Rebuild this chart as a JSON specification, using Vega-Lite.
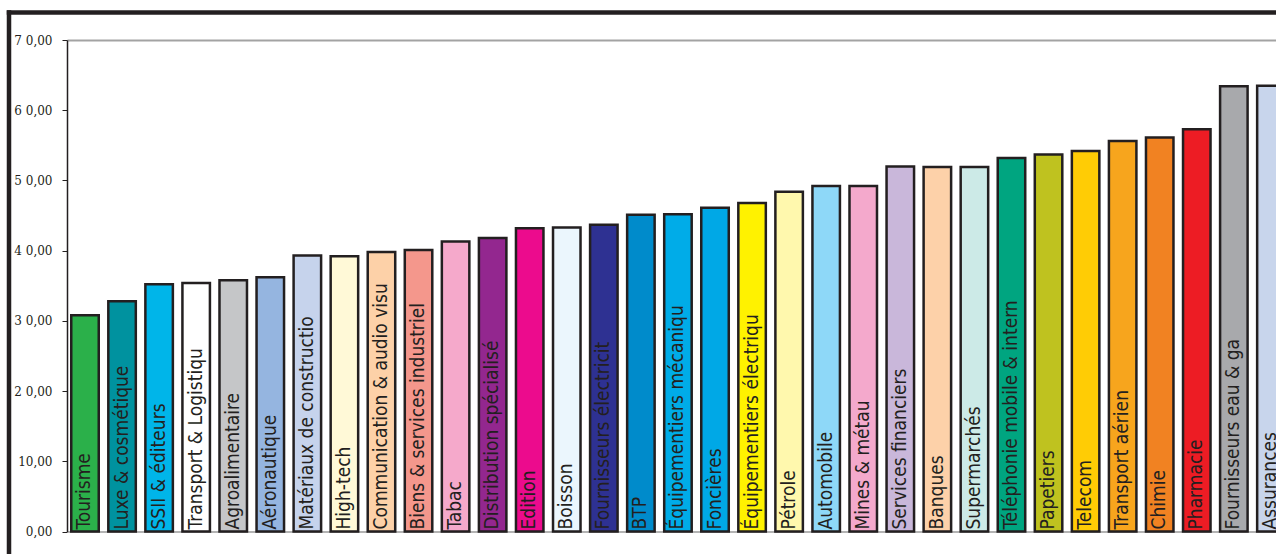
{
  "$schema": "https://vega.github.io/schema/vega-lite/v6.json",
  "width": 1267.5,
  "height": 542,
  "autosize": {"type": "none"},
  "padding": {"left": 8.5, "top": 12, "right": 0, "bottom": 0},
  "background": "white",
  "config": {"view": {"stroke": null}},
  "data": {
    "values": [
      {"secteur": "Tourisme", "valeur": 30.8},
      {"secteur": "Luxe & cosmétique", "valeur": 32.8},
      {"secteur": "SSII & éditeurs", "valeur": 35.2},
      {"secteur": "Transport & Logistiqu", "valeur": 35.4},
      {"secteur": "Agroalimentaire", "valeur": 35.8},
      {"secteur": "Aéronautique", "valeur": 36.2},
      {"secteur": "Matériaux de constructio", "valeur": 39.3},
      {"secteur": "High-tech", "valeur": 39.2},
      {"secteur": "Communication & audio visu", "valeur": 39.8},
      {"secteur": "Biens & services industriel", "valeur": 40.1},
      {"secteur": "Tabac", "valeur": 41.3},
      {"secteur": "Distribution spécialisé", "valeur": 41.8},
      {"secteur": "Edition", "valeur": 43.2},
      {"secteur": "Boisson", "valeur": 43.3},
      {"secteur": "Fournisseurs électricit", "valeur": 43.7},
      {"secteur": "BTP", "valeur": 45.1},
      {"secteur": "Équipementiers mécaniqu", "valeur": 45.2},
      {"secteur": "Foncières", "valeur": 46.1},
      {"secteur": "Équipementiers électriqu", "valeur": 46.8},
      {"secteur": "Pétrole", "valeur": 48.4},
      {"secteur": "Automobile", "valeur": 49.2},
      {"secteur": "Mines & métau", "valeur": 49.2},
      {"secteur": "Services financiers", "valeur": 52.0},
      {"secteur": "Banques", "valeur": 51.9},
      {"secteur": "Supermarchés", "valeur": 51.9},
      {"secteur": "Téléphonie mobile & intern", "valeur": 53.2},
      {"secteur": "Papetiers", "valeur": 53.7},
      {"secteur": "Telecom", "valeur": 54.2},
      {"secteur": "Transport aérien", "valeur": 55.6},
      {"secteur": "Chimie", "valeur": 56.1},
      {"secteur": "Pharmacie", "valeur": 57.3},
      {"secteur": "Fournisseurs eau & ga", "valeur": 63.4},
      {"secteur": "Assurances", "valeur": 63.5}
    ]
  },
  "layer": [
    {
      "mark": {"type": "point", "opacity": 0},
      "encoding": {
        "x": {"datum": 0, "type": "quantitative", "scale": {"domain": [0, 1]},
              "axis": {"orient": "top", "title": null, "labels": false, "ticks": false, "grid": false,
                       "domain": true, "domainColor": "#231F20", "domainWidth": 4.5, "domainCap": "square"}},
        "y": {"datum": 0, "type": "quantitative", "scale": {"domain": [0, 1]},
              "axis": {"orient": "left", "title": null, "labels": false, "ticks": false, "grid": false,
                       "domain": true, "domainColor": "#231F20", "domainWidth": 4.5, "domainCap": "square"}}
      }
    },
    {
      "mark": {"type": "point", "opacity": 0},
      "encoding": {
        "x": {"field": "secteur", "type": "nominal", "sort": null,
              "scale": {"range": [58.5, 1280.4], "paddingInner": 0.258, "paddingOuter": 0.1147},
              "axis": {"orient": "top", "offset": -28, "title": null, "labels": false, "ticks": false,
                       "grid": false, "domain": true, "domainColor": "#A3A3A3", "domainWidth": 2}}
      }
    },
    {
      "encoding": {
        "x": {"field": "secteur", "type": "nominal", "sort": null,
              "scale": {"range": [58.5, 1280.4], "paddingInner": 0.258, "paddingOuter": 0.1147},
              "axis": {"orient": "bottom", "offset": -22.5, "title": null, "labels": false, "ticks": false,
                       "grid": false, "domain": true, "domainColor": "#9A9A9A", "domainWidth": 1.5}},
        "y": {"field": "valeur", "type": "quantitative",
              "scale": {"domain": [0, 70], "range": [519.5, 28], "nice": false, "zero": true},
              "axis": {"orient": "left", "offset": -58.5, "title": null, "grid": false,
                       "values": [0, 10, 20, 30, 40, 50, 60, 70],
                       "labelExpr": "datum.value < 20 ? replace(format(datum.value, '.2f'), '.', ',') : format(datum.value / 10, 'd') + ' 0,00'",
                       "labelFont": "DejaVu Serif", "labelFontSize": 12, "labelColor": "#231F20",
                       "labelPadding": 10, "labelAlign": "right", "labelBaseline": "middle",
                       "ticks": true, "tickSize": 5, "tickColor": "#231F20", "tickWidth": 1,
                       "domain": true, "domainColor": "#231F20", "domainWidth": 1.5}}
      },
      "layer": [
        {
          "mark": {"type": "bar", "stroke": "#231F20", "strokeWidth": 2.5},
          "encoding": {
            "color": {"field": "secteur", "type": "nominal", "legend": null,
                      "scale": {
                        "domain": ["Tourisme", "Luxe & cosmétique", "SSII & éditeurs", "Transport & Logistiqu", "Agroalimentaire", "Aéronautique", "Matériaux de constructio", "High-tech", "Communication & audio visu", "Biens & services industriel", "Tabac", "Distribution spécialisé", "Edition", "Boisson", "Fournisseurs électricit", "BTP", "Équipementiers mécaniqu", "Foncières", "Équipementiers électriqu", "Pétrole", "Automobile", "Mines & métau", "Services financiers", "Banques", "Supermarchés", "Téléphonie mobile & intern", "Papetiers", "Telecom", "Transport aérien", "Chimie", "Pharmacie", "Fournisseurs eau & ga", "Assurances"],
                        "range": ["#2BB04A", "#00929F", "#00B5E9", "#FFFFFF", "#C5C6C8", "#95B5E0", "#C6D3EC", "#FFF9D7", "#FDD1A8", "#F4978C", "#F5A9CB", "#93278F", "#EC0B8D", "#EBF6FD", "#2E3192", "#008BCB", "#00ACE8", "#00A8E6", "#FFF200", "#FFF8AD", "#8ED8F8", "#F4A9CC", "#C9B7DA", "#FDD1A9", "#CCEAE7", "#00A580", "#BFC21F", "#FFCC05", "#F7A51D", "#F18222", "#ED1C24", "#A8A9AC", "#C8D5EC"]
                      }}
          }
        },
        {
          "mark": {"type": "text", "angle": 270, "align": "left", "baseline": "alphabetic",
                   "dx": 2, "dy": 5.5, "font": "Liberation Sans Narrow, Arial Narrow, DejaVu Sans Condensed, Liberation Sans, sans-serif",
                   "fontSize": 19, "color": "#231F20"},
          "encoding": {
            "y": {"datum": 0, "type": "quantitative"},
            "text": {"field": "secteur", "type": "nominal"}
          }
        }
      ]
    }
  ],
  "resolve": {
    "scale": {"x": "independent", "y": "independent"},
    "axis": {"x": "independent", "y": "independent"}
  }
}
